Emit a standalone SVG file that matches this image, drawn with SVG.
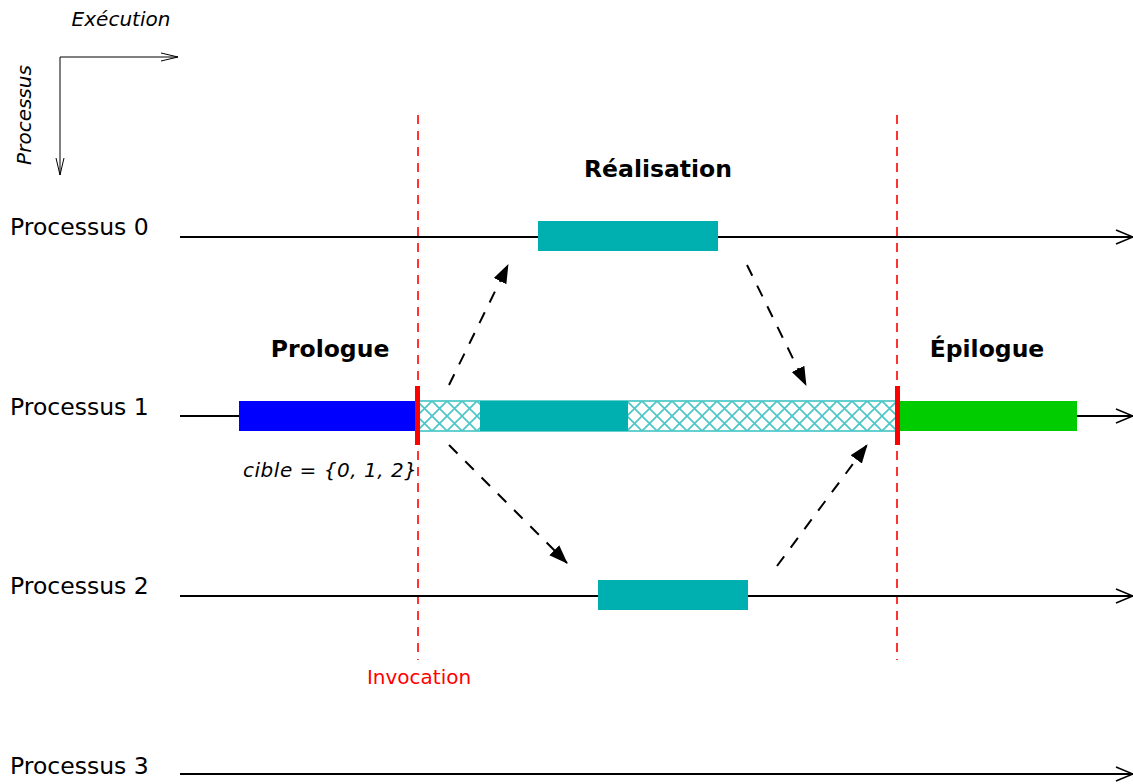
<svg xmlns="http://www.w3.org/2000/svg" width="1133" height="784" viewBox="0 0 1133 784">
  <defs>
    <pattern id="hatch" patternUnits="userSpaceOnUse" width="15" height="15" x="417" y="401">
      <path d="M0,0 L15,15 M15,0 L0,15" stroke="#4cc6c6" stroke-width="1.7" fill="none"/>
    </pattern>
    <marker id="open" markerWidth="22" markerHeight="20" refX="18" refY="10" orient="auto" markerUnits="userSpaceOnUse">
      <path d="M1,3 L18,10 L1,17" fill="none" stroke="#000" stroke-width="1.6"/>
    </marker>
    <marker id="openThin" markerWidth="22" markerHeight="14" refX="18" refY="7" orient="auto" markerUnits="userSpaceOnUse">
      <path d="M1,3 L18,7 L1,11" fill="none" stroke="#000" stroke-width="1"/>
    </marker>
    <marker id="solid" markerWidth="20" markerHeight="16" refX="18" refY="8" orient="auto" markerUnits="userSpaceOnUse">
      <path d="M0,1 L19,8 L0,15 Z" fill="#000"/>
    </marker>
  </defs>
  <style>
    text { font-family: "DejaVu Sans", "Liberation Sans", sans-serif; fill: #000; }
    .proc { font-size: 23.5px; }
    .phase { font-size: 23.5px; font-weight: bold; }
    .ital { font-size: 20px; font-style: italic; }
    .timeline { stroke: #000; stroke-width: 2; fill: none; marker-end: url(#open); }
    .sep { stroke: #f00; stroke-width: 1.6; stroke-dasharray: 9 7; fill: none; }
    .msg { stroke: #000; stroke-width: 2; stroke-dasharray: 12 11; fill: none; marker-end: url(#solid); }
    .work { fill: #00b0b0; }
  </style>

  <!-- axes legend -->
  <g id="axes">
    <path d="M60,57 L178,57" stroke="#000" stroke-width="1" fill="none" marker-end="url(#openThin)"/>
    <path d="M60,57 L60,175" stroke="#000" stroke-width="1" fill="none" marker-end="url(#openThin)"/>
    <text class="ital" x="121" y="26" text-anchor="middle">Exécution</text>
    <text class="ital" x="0" y="0" text-anchor="middle" transform="translate(31,115) rotate(-90)">Processus</text>
  </g>

  <!-- phase separators -->
  <g id="separators">
    <line class="sep" x1="418" y1="115" x2="418" y2="660"/>
    <line class="sep" x1="897" y1="115" x2="897" y2="660"/>
    <text x="419" y="684" text-anchor="middle" font-size="20" style="fill:#f00">Invocation</text>
  </g>

  <!-- timelines -->
  <g id="timelines">
    <line class="timeline" x1="180" y1="237" x2="1133" y2="237"/>
    <line class="timeline" x1="180" y1="416" x2="1133" y2="416"/>
    <line class="timeline" x1="180" y1="596" x2="1133" y2="596"/>
    <line class="timeline" x1="180" y1="774" x2="1133" y2="774"/>
  </g>

  <g id="p0">
    <text class="proc" x="10" y="235">Processus 0</text>
    <rect class="work" x="538" y="221" width="180" height="30"/>
  </g>

  <g id="p1">
    <text class="proc" x="10" y="415">Processus 1</text>
    <rect x="239" y="401" width="178" height="30" fill="#0000ff"/>
    <rect x="417" y="401" width="479" height="30" fill="#fff" stroke="#00b0b0" stroke-width="1.2"/>
    <rect x="417" y="401" width="479" height="30" fill="url(#hatch)"/>
    <rect class="work" x="480" y="401" width="148" height="30"/>
    <rect x="897" y="401" width="180" height="30" fill="#00cc00"/>
    <rect x="415" y="386" width="5" height="59" fill="#f00"/>
    <rect x="895" y="386" width="5" height="59" fill="#f00"/>
    <text class="ital" x="243" y="477" textLength="174" lengthAdjust="spacing">cible = {0, 1, 2}</text>
  </g>

  <g id="p2">
    <text class="proc" x="10" y="594">Processus 2</text>
    <rect class="work" x="598" y="580" width="150" height="30"/>
  </g>

  <g id="p3">
    <text class="proc" x="10" y="774">Processus 3</text>
  </g>

  <!-- phase titles -->
  <g id="titles">
    <text class="phase" x="330" y="357" text-anchor="middle">Prologue</text>
    <text class="phase" x="658" y="177" text-anchor="middle">Réalisation</text>
    <text class="phase" x="987" y="357" text-anchor="middle">Épilogue</text>
  </g>

  <!-- messages -->
  <g id="connectors">
    <line class="msg" x1="449" y1="385" x2="508" y2="265"/>
    <line class="msg" x1="747" y1="265" x2="806" y2="385"/>
    <line class="msg" x1="449" y1="445" x2="567" y2="563"/>
    <line class="msg" x1="777" y1="566" x2="867" y2="445"/>
  </g>
</svg>
